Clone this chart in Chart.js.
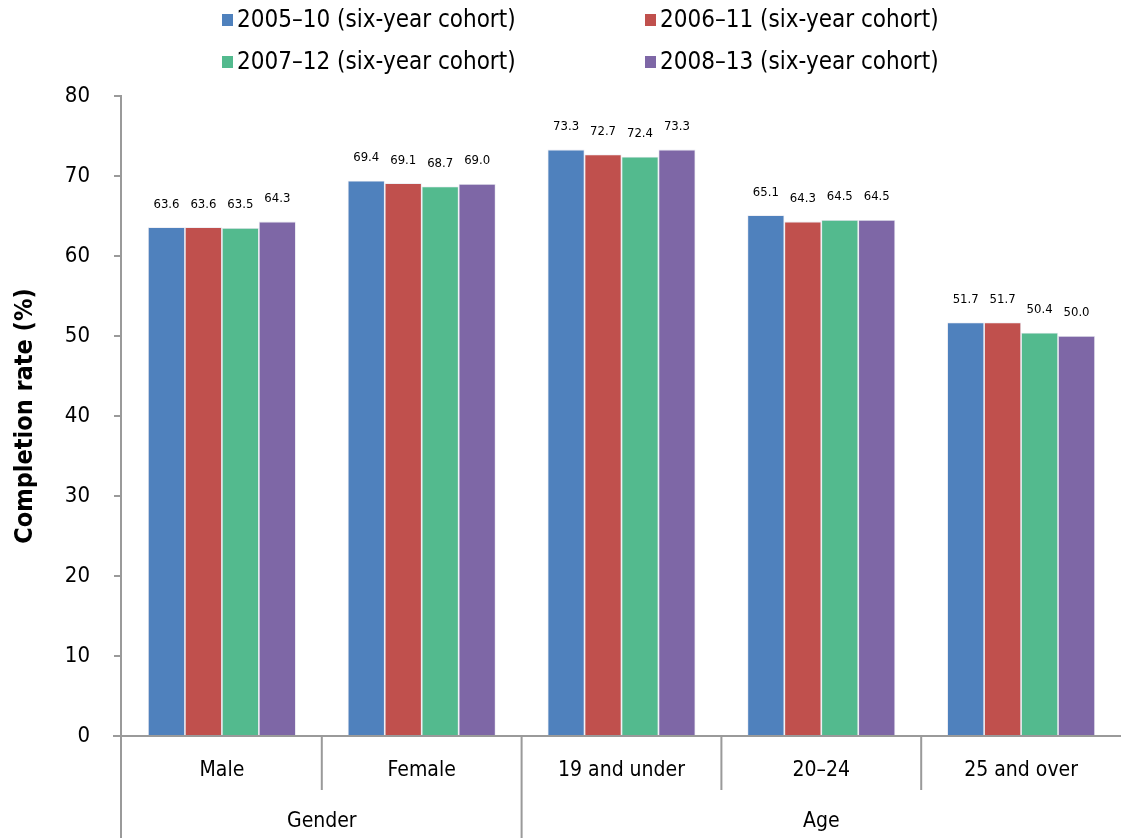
<!DOCTYPE html>
<html>
<head>
<meta charset="utf-8">
<script src="https://cdn.jsdelivr.net/npm/chart.js@4.4.1/dist/chart.umd.min.js"></script>
<style>
  html, body { margin: 0; padding: 0; background: #fff; }
  #wrap { width: 1121px; height: 838px; position: relative; }
</style>
</head>
<body>
<div id="wrap"><canvas id="myChart"></canvas></div>
<script>
// ===============================
// Data
// ===============================
const categories = ["Male", "Female", "19 and under", "20\u201324", "25 and over"];
const groupLabels = ["Gender", "Age"];
const groupSizes = [2, 3];

const seriesLabels = [
  "2005\u201310 (six-year cohort)",
  "2006\u201311 (six-year cohort)",
  "2007\u201312 (six-year cohort)",
  "2008\u201313 (six-year cohort)",
];
const cohort0510 = [63.6, 69.4, 73.3, 65.1, 51.7];
const cohort0611 = [63.6, 69.1, 72.7, 64.3, 51.7];
const cohort0712 = [63.5, 68.7, 72.4, 64.5, 50.4];
const cohort0813 = [64.3, 69.0, 73.3, 64.5, 50.0];
const yTicks = [0, 10, 20, 30, 40, 50, 60, 70, 80];

const colors = ["#4F81BD", "#C0504D", "#53BA8E", "#7E67A6"];
const FONT = "'Liberation Sans Narrow', 'DejaVu Sans Condensed', sans-serif";
const AXIS = "#9a9a9a";

// ===============================
// Custom drawing: legend, value labels, two-level x axis
// ===============================
const extrasPlugin = {
  id: "extras",
  afterDraw(chart) {
    const { ctx, chartArea } = chart;
    const x = chart.scales.x;
    const H = chart.height;
    ctx.save();

    // legend (2 columns)
    const legendCols = [222, 645];
    const legendRows = [20, 62];
    ctx.font = "24px " + FONT;
    ctx.textBaseline = "middle";
    ctx.textAlign = "left";
    chart.data.datasets.forEach((ds, i) => {
      const lx = legendCols[i % 2];
      const ly = legendRows[Math.floor(i / 2)];
      ctx.fillStyle = ds.backgroundColor;
      ctx.fillRect(lx, ly - 6, 11, 12);
      ctx.fillStyle = "#000";
      ctx.fillText(ds.label, lx + 15, ly + 1);
    });

    // value labels above bars
    ctx.font = "13px " + FONT;
    ctx.textAlign = "center";
    chart.data.datasets.forEach((ds, i) => {
      chart.getDatasetMeta(i).data.forEach((bar, j) => {
        ctx.fillText(ds.data[j].toFixed(1), bar.x, bar.y - 23);
      });
    });

    // axis lines extended
    ctx.strokeStyle = AXIS;
    ctx.lineWidth = 2;
    ctx.beginPath();
    ctx.moveTo(chartArea.left - 1, chartArea.top);
    ctx.lineTo(chartArea.left - 1, H);
    ctx.moveTo(chartArea.left - 9, chartArea.bottom);
    ctx.lineTo(chartArea.right, chartArea.bottom);
    ctx.stroke();

    // category labels and separators
    const catW = (chartArea.right - chartArea.left) / categories.length;
    ctx.font = "21px " + FONT;
    ctx.fillStyle = "#000";
    categories.forEach((c, i) => {
      ctx.fillText(c, x.getPixelForValue(i), chartArea.bottom + 35);
    });
    let start = 0;
    const groupStarts = [];
    groupSizes.forEach((n) => { groupStarts.push(start); start += n; });
    ctx.beginPath();
    for (let i = 1; i < categories.length; i++) {
      const bx = x.getPixelForValue(i) - catW / 2;
      const full = groupStarts.includes(i);
      ctx.moveTo(bx, chartArea.bottom);
      ctx.lineTo(bx, full ? H : chartArea.bottom + 54);
    }
    ctx.stroke();

    // group labels
    groupLabels.forEach((g, k) => {
      const a = groupStarts[k];
      const b = a + groupSizes[k] - 1;
      const gx = (x.getPixelForValue(a) + x.getPixelForValue(b)) / 2;
      ctx.fillText(g, gx, chartArea.bottom + 86);
    });

    ctx.restore();
  },
};

// ===============================
// Chart
// ===============================
const seriesData = [cohort0510, cohort0611, cohort0712, cohort0813];

new Chart(document.getElementById("myChart"), {
  type: "bar",
  data: {
    labels: categories,
    datasets: seriesLabels.map((label, i) => ({
      label: label,
      data: seriesData[i],
      backgroundColor: colors[i],
      borderColor: "rgba(210,210,225,0.6)",
      borderWidth: 0.8,
      categoryPercentage: 0.74,
      barPercentage: 1.0,
    })),
  },
  options: {
    responsive: true,
    maintainAspectRatio: false,
    animation: false,
    layout: { padding: { top: 96, right: 0, left: 0, bottom: 0 } },
    scales: {
      x: {
        grid: { display: false },
        border: { display: false },
        ticks: { display: false },
        afterFit: (s) => { s.height = 102; },
      },
      y: {
        min: 0,
        max: 80,
        afterBuildTicks: (s) => { s.ticks = yTicks.map((v) => ({ value: v })); },
        afterFit: (s) => { s.width = 122; },
        grid: {
          drawOnChartArea: false,
          tickLength: 8,
          color: AXIS,
          lineWidth: 2,
        },
        border: { display: false },
        ticks: {
          padding: 24,
          color: "#000",
          font: { family: FONT, size: 22 },
        },
        title: {
          display: true,
          text: "Completion rate (%)",
          color: "#000",
          padding: { top: 10, bottom: 0 },
          font: { family: FONT, size: 25, weight: "bold" },
        },
      },
    },
    plugins: {
      legend: { display: false },
      tooltip: { enabled: false },
    },
  },
  plugins: [extrasPlugin],
});
</script>
</body>
</html>
